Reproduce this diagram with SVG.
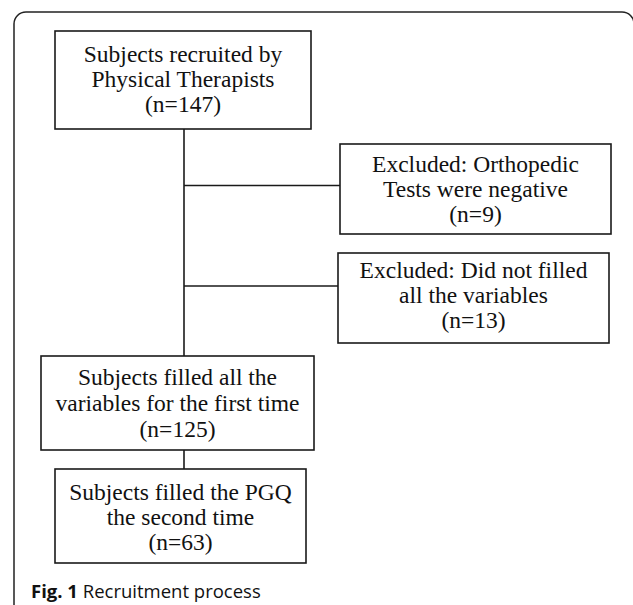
<svg xmlns="http://www.w3.org/2000/svg" width="633" height="605" viewBox="0 0 633 605">
<style>
.box{fill:#fff;stroke:#1a1a1a;stroke-width:1.6}
.t{font-family:"Liberation Serif",serif;font-size:23.5px;fill:#111;text-anchor:middle}
.c{stroke:#1a1a1a;stroke-width:1.6;fill:none}
.cap{font-family:"Open Sans",sans-serif;font-size:18.5px;fill:#111}
</style>
<rect width="633" height="605" fill="#fff"/>
<path d="M14,605 V24 A12,12 0 0 1 26,12 H622 A12,12 0 0 1 634,24 V605" fill="none" stroke="#222" stroke-width="1.5"/>
<g id="connectors">
<line class="c" x1="184" y1="129" x2="184" y2="356"/>
<line class="c" x1="184" y1="185.5" x2="340" y2="185.5"/>
<line class="c" x1="184" y1="286" x2="338" y2="286"/>
<line class="c" x1="184" y1="450" x2="184" y2="469"/>
</g>
<g id="recruited">
<rect class="box" x="55" y="31" width="256" height="98"/>
<text class="t" x="183" y="62">Subjects recruited by</text>
<text class="t" x="183" y="87">Physical Therapists</text>
<text class="t" x="183" y="112">(n=147)</text>
</g>
<g id="excluded-ortho">
<rect class="box" x="340" y="144" width="271" height="90"/>
<text class="t" x="475.5" y="172">Excluded: Orthopedic</text>
<text class="t" x="475.5" y="197">Tests were negative</text>
<text class="t" x="475.5" y="222">(n=9)</text>
</g>
<g id="excluded-vars">
<rect class="box" x="338" y="253" width="271" height="90"/>
<text class="t" x="473.5" y="278">Excluded: Did not filled</text>
<text class="t" x="473.5" y="303">all the variables</text>
<text class="t" x="473.5" y="328">(n=13)</text>
</g>
<g id="first-time">
<rect class="box" x="41" y="356" width="273" height="94"/>
<text class="t" x="177.5" y="385">Subjects filled all the</text>
<text class="t" x="177.5" y="411">variables for the first time</text>
<text class="t" x="177.5" y="437">(n=125)</text>
</g>
<g id="second-time">
<rect class="box" x="55" y="469" width="251" height="94"/>
<text class="t" x="180.5" y="500">Subjects filled the PGQ</text>
<text class="t" x="180.5" y="525">the second time</text>
<text class="t" x="180.5" y="550">(n=63)</text>
</g>
<text class="cap" x="31" y="598"><tspan font-weight="bold">Fig. 1</tspan> Recruitment process</text>
</svg>
